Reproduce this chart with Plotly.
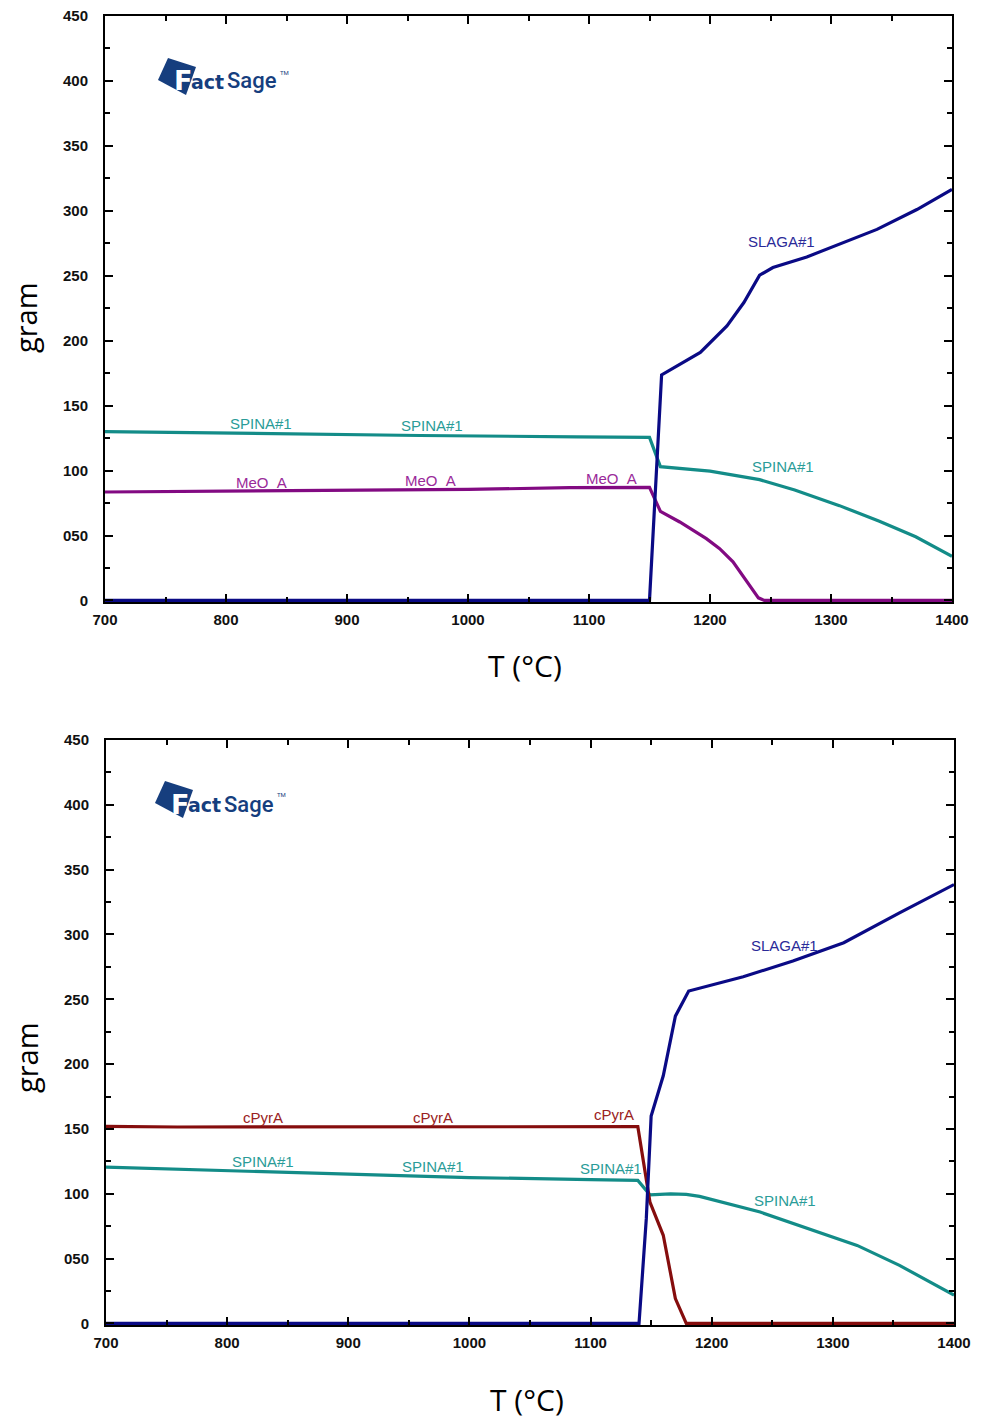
import plotly.graph_objects as go

W, H = 983, 1422

# ---------------- data: top panel ----------------
top_spina_T = [700, 740, 860, 960, 1090, 1150, 1159, 1200, 1241, 1270, 1307, 1340, 1370, 1400]
top_spina_g = [130, 129.5, 128.3, 127, 126, 125.5, 103, 99.5, 93, 85, 73, 61, 49, 34]

top_meo_T = [700, 770, 880, 1000, 1084, 1150, 1159, 1175, 1197, 1208, 1219, 1230, 1240, 1245, 1400]
top_meo_g = [83.5, 84, 84.8, 85.5, 86.8, 87, 68.6, 60.4, 47.6, 39.9, 29.7, 15.6, 2, 0, 0]

top_slag_T = [700, 1150, 1160, 1192, 1214, 1228, 1241, 1252, 1280, 1307, 1338, 1371, 1400]
top_slag_g = [0, 0, 173.6, 191, 211.4, 229.4, 250.4, 256.3, 264.5, 274.2, 285.7, 301, 316.4]

# ---------------- data: bottom panel ----------------
bot_cpyr_T = [700, 759, 1139, 1149, 1160, 1170, 1179, 1400]
bot_cpyr_g = [152, 151.5, 151.8, 93.6, 68, 19.2, 0, 0]

bot_spina_T = [700, 740, 800, 900, 1000, 1100, 1139, 1149, 1166, 1179, 1190, 1240, 1281, 1320, 1355, 1400]
bot_spina_g = [120.5, 119.5, 117.5, 115, 112.5, 111, 110.3, 99.2, 100, 99.5, 98, 85.9, 73, 60.2, 44.8, 21.8]

bot_slag_T = [700, 1140, 1146, 1150, 1160, 1170, 1181, 1226, 1267, 1309, 1355, 1400]
bot_slag_g = [0, 0, 80.8, 160, 191, 237, 256.4, 267.4, 279.5, 293.6, 316.7, 338.5]

# tick labels
x_ticks = [700, 800, 900, 1000, 1100, 1200, 1300, 1400]
y_ticks = [0, 50, 100, 150, 200, 250, 300, 350, 400, 450]
y_tick_text = ["0", "050", "100", "150", "200", "250", "300", "350", "400", "450"]

# curve labels (text, T, gram)
top_labels = [
    ("SPINA#1", 829, 136, "teal"), ("SPINA#1", 970, 134.4, "teal"), ("SPINA#1", 1260, 103, "teal"),
    ("MeO\u00a0\u00a0A", 829, 90.6, "purple"), ("MeO\u00a0\u00a0A", 969, 92, "purple"),
    ("MeO\u00a0\u00a0A", 1119, 93.7, "purple"),
    ("SLAGA#1", 1259.5, 276.5, "navy"),
]
bot_labels = [
    ("cPyrA", 829.6, 159, "red"), ("cPyrA", 970, 159, "red"), ("cPyrA", 1119, 160.8, "red"),
    ("SPINA#1", 829.6, 124.6, "teal"), ("SPINA#1", 970, 120.8, "teal"), ("SPINA#1", 1117, 119.2, "teal"),
    ("SPINA#1", 1260.5, 94.6, "teal"),
    ("SLAGA#1", 1259.7, 291.5, "navy"),
]

line_col = {"teal": "#138c88", "purple": "#820a82", "navy": "#0a0a85", "red": "#850d0d"}
text_col = {"teal": "#2a9c98", "purple": "#9a2a9a", "navy": "#2a2a98", "red": "#9a2222"}


def px(x):
    return x / W


def py(y):
    return 1 - y / H


fig = go.Figure()

# top panel
fig.add_trace(go.Scatter(x=top_spina_T, y=top_spina_g, mode="lines",
                         line=dict(color=line_col["teal"], width=3.2), xaxis="x", yaxis="y"))
fig.add_trace(go.Scatter(x=top_meo_T, y=top_meo_g, mode="lines",
                         line=dict(color=line_col["purple"], width=3.2), xaxis="x", yaxis="y"))
fig.add_trace(go.Scatter(x=top_slag_T, y=top_slag_g, mode="lines",
                         line=dict(color=line_col["navy"], width=3.2), xaxis="x", yaxis="y"))
# bottom panel
fig.add_trace(go.Scatter(x=bot_spina_T, y=bot_spina_g, mode="lines",
                         line=dict(color=line_col["teal"], width=3.2), xaxis="x2", yaxis="y2"))
fig.add_trace(go.Scatter(x=bot_cpyr_T, y=bot_cpyr_g, mode="lines",
                         line=dict(color=line_col["red"], width=3.2), xaxis="x2", yaxis="y2"))
fig.add_trace(go.Scatter(x=bot_slag_T, y=bot_slag_g, mode="lines",
                         line=dict(color=line_col["navy"], width=3.2), xaxis="x2", yaxis="y2"))

tickfont = dict(family="Liberation Sans, Arial", size=15, color="#111", weight="bold")


def xaxis(domain, anchor):
    return dict(domain=domain, anchor=anchor, range=[700, 1400], tickvals=x_ticks,
                ticks="inside", ticklen=8, tickwidth=1.5, tickcolor="black",
                showline=True, linecolor="black", linewidth=2, mirror="ticks",
                showgrid=False, zeroline=False, tickfont=tickfont, ticklabelstandoff=3,
                automargin=False,
                minor=dict(dtick=50, ticks="inside", ticklen=5, tickwidth=1.5, tickcolor="black",
                           showgrid=False))


def yaxis(domain, anchor):
    return dict(domain=domain, anchor=anchor, range=[-1.2, 450], tickvals=y_ticks,
                ticktext=y_tick_text,
                ticks="inside", ticklen=8, tickwidth=1.5, tickcolor="black",
                showline=True, linecolor="black", linewidth=2, mirror="ticks",
                showgrid=False, zeroline=False, tickfont=tickfont, ticklabelstandoff=12,
                automargin=False,
                minor=dict(tickvals=[25, 75, 125, 175, 225, 275, 325, 375, 425], ticks="inside",
                           ticklen=5, tickwidth=1.5, tickcolor="black", showgrid=False))


annotations = []
for txt, t, g, c in top_labels:
    annotations.append(dict(x=t, y=g, xref="x", yref="y", text=txt, showarrow=False,
                            font=dict(family="Liberation Sans, Arial", size=15, color=text_col[c])))
for txt, t, g, c in bot_labels:
    annotations.append(dict(x=t, y=g, xref="x2", yref="y2", text=txt, showarrow=False,
                            font=dict(family="Liberation Sans, Arial", size=15, color=text_col[c])))

# axis titles
title_font = dict(family="Open Sans", size=29, color="black")
for (gx, gy, tx, ty) in [(26, 318, 525, 665), (26, 1058, 527, 1399)]:
    annotations.append(dict(x=px(gx), y=py(gy), xref="paper", yref="paper", text="gram",
                            textangle=-90, showarrow=False, font=title_font,
                            xanchor="center", yanchor="middle"))
    annotations.append(dict(x=px(tx), y=py(ty), xref="paper", yref="paper", text="T (°C)",
                            showarrow=False, font=dict(family="Open Sans", size=30, color="black"),
                            xanchor="center", yanchor="middle"))

# FactSage logos
logo_col = "#163e7e"
shapes = []
for dx, dy in [(0, 0), (-3, 723)]:
    pts = [(158 + dx, 80 + dy), (168 + dx, 58 + dy), (196 + dx, 67 + dy), (186 + dx, 95 + dy)]
    path = "M " + " L ".join(f"{px(a):.5f},{py(b):.5f}" for a, b in pts) + " Z"
    shapes.append(dict(type="path", path=path, xref="paper", yref="paper",
                       fillcolor=logo_col, line=dict(width=0)))
    annotations.append(dict(x=px(183 + dx), y=py(81 + dy), xref="paper", yref="paper", text="<b>F</b>",
                            showarrow=False, xanchor="center", yanchor="middle",
                            font=dict(family="DejaVu Sans", size=27, color="white")))
    annotations.append(dict(x=px(207 + dx), y=py(82 + dy), xref="paper", yref="paper", text="<b>act</b>",
                            showarrow=False, xanchor="center", yanchor="middle",
                            font=dict(family="DejaVu Sans", size=19, color=logo_col)))
    annotations.append(dict(x=px(252 + dx), y=py(81 + dy), xref="paper", yref="paper", text="Sage",
                            showarrow=False, xanchor="center", yanchor="middle",
                            font=dict(family="Roboto", size=22, color=logo_col, weight=500)))
    annotations.append(dict(x=px(284 + dx), y=py(72 + dy), xref="paper", yref="paper", text="TM",
                            showarrow=False, xanchor="center", yanchor="middle",
                            font=dict(family="Roboto", size=6, color=logo_col)))

fig.update_layout(
    width=W, height=H,
    margin=dict(l=0, r=0, t=0, b=0, pad=0),
    paper_bgcolor="white", plot_bgcolor="white",
    showlegend=False,
    xaxis=xaxis([px(105), px(952)], "y"),
    yaxis=yaxis([py(602), py(16)], "x"),
    xaxis2=xaxis([px(106), px(954)], "y2"),
    yaxis2=yaxis([py(1325), py(740)], "x2"),
    annotations=annotations,
    shapes=shapes,
)

fig.write_html("out.html")
